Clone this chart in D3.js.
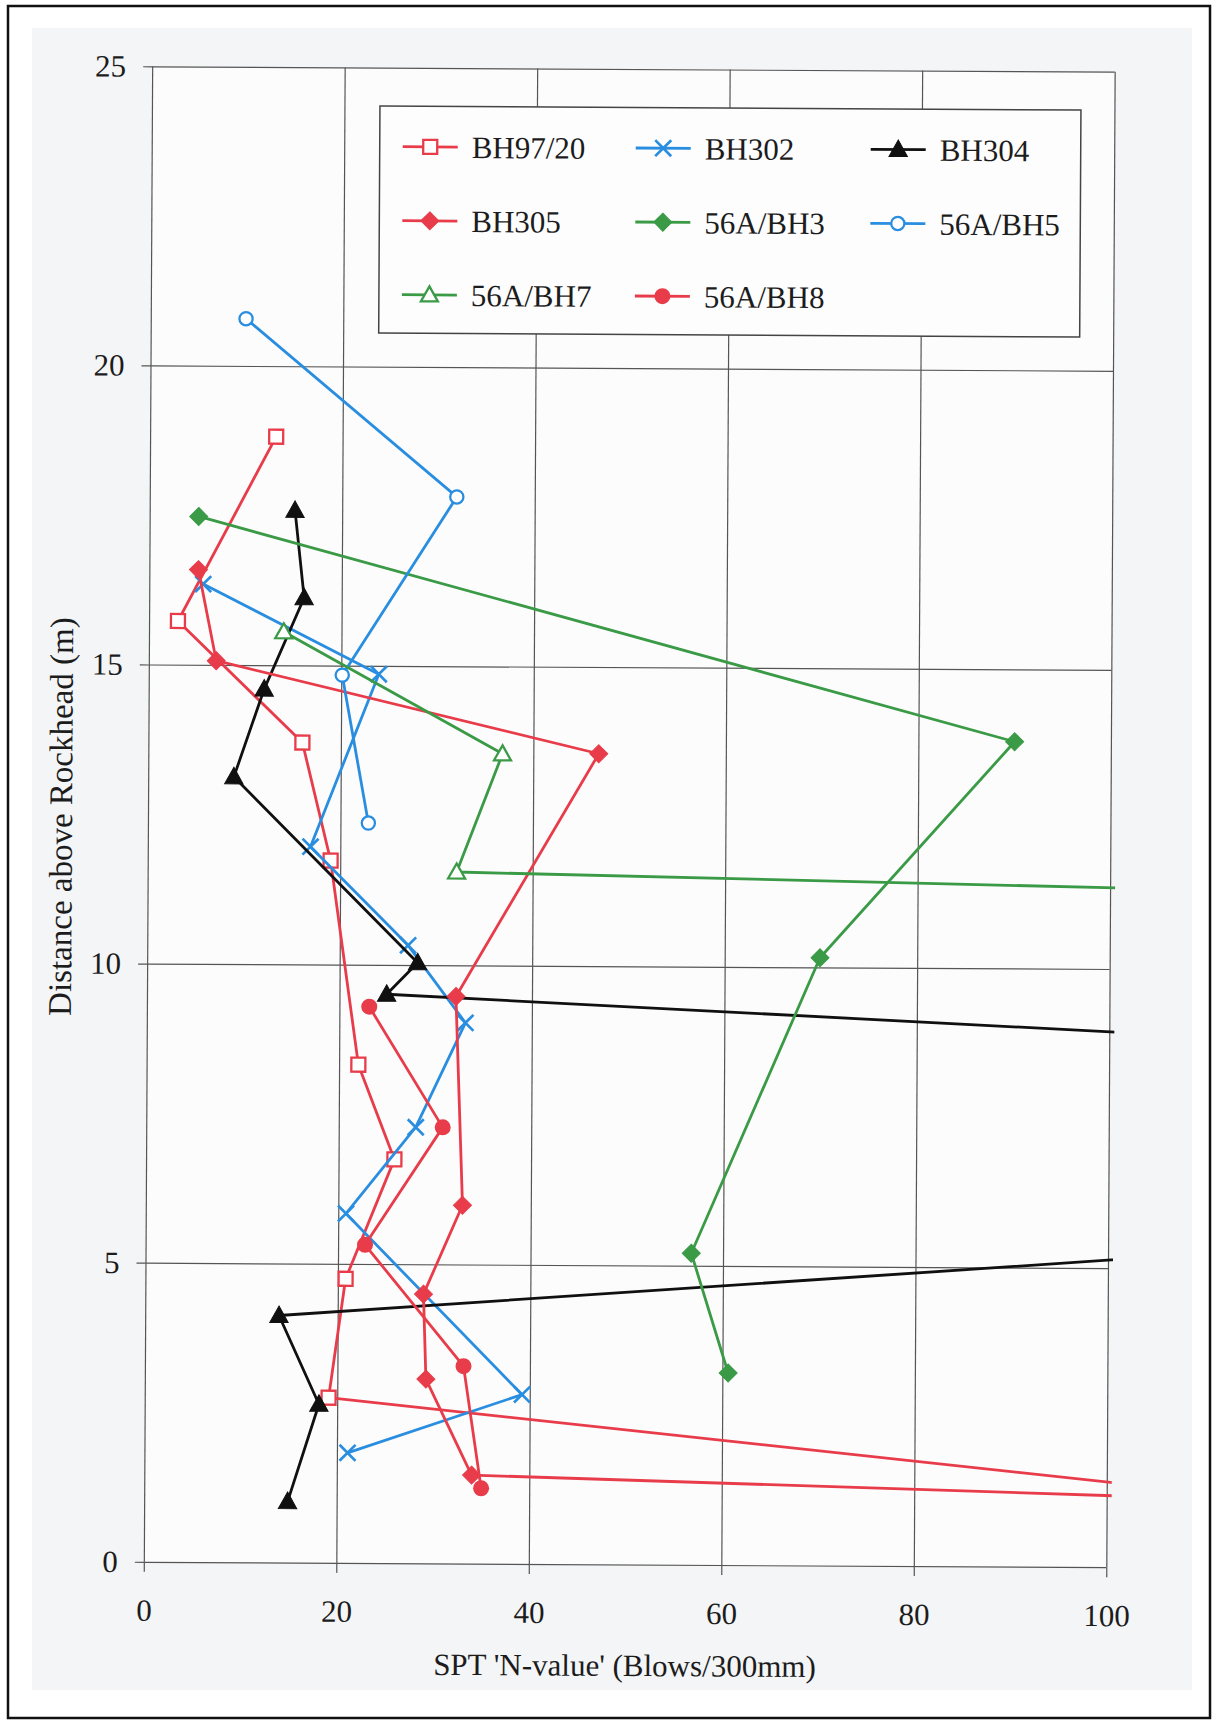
<!DOCTYPE html>
<html><head><meta charset="utf-8">
<script src="https://cdn.jsdelivr.net/npm/d3@7"></script>
<style>
html,body{margin:0;padding:0;background:#fff;}
svg{display:block;}
text{font-family:"Liberation Serif","Times New Roman",serif;fill:#1c1c1c;}
</style></head><body>
<svg id="chart" width="1216" height="1724"></svg>
<script>
// SPT N-values against height above rockhead, one profile per borehole.
// Values above 100 blows lie beyond the axis; their lines run out of the plot.
const seriesNames = ["BH97/20", "BH302", "BH304", "BH305", "56A/BH3", "56A/BH5", "56A/BH7", "56A/BH8"];

const bh9720N = [13.1, 3.0, 16.0, 19.0, 22.0, 25.8, 20.8, 19.1, 150];
const bh9720D = [18.82, 15.73, 13.71, 11.74, 8.33, 6.75, 4.75, 2.76, 0.60];

const bh302N = [5.6, 23.9, 16.9, 27.1, 33.1, 28.0, 20.8, 39.2, 21.1];
const bh302D = [16.35, 14.86, 11.97, 10.33, 9.04, 7.29, 5.84, 2.83, 1.84];

const bh304N = [15.1, 16.1, 12.0, 8.9, 28.1, 24.9, 300, 13.9, 18.1, 14.9];
const bh304D = [17.59, 16.13, 14.60, 13.13, 10.04, 9.51, 7.46, 4.13, 2.65, 1.02];

const bh305N = [5.1, 7.0, 46.8, 32.1, 32.9, 28.9, 29.2, 34.0, 200];
const bh305D = [16.59, 15.07, 13.55, 9.48, 5.99, 4.50, 3.08, 1.48, 0.77];

const bh56a3N = [5.1, 90.0, 69.9, 56.7, 60.6];
const bh56a3D = [17.48, 13.79, 10.16, 5.21, 3.21];

const bh56a5N = [9.9, 31.9, 20.1, 22.9];
const bh56a5D = [20.79, 17.83, 14.84, 12.37];

const bh56a7N = [14.0, 36.8, 32.1, 200];
const bh56a7D = [15.56, 13.54, 11.56, 11.06];

const bh56a8N = [23.1, 30.8, 22.8, 33.1, 35.0];
const bh56a8D = [9.30, 7.29, 5.32, 3.30, 1.26];

const xTicks = [0, 20, 40, 60, 80, 100];
const yTicks = [0, 5, 10, 15, 20, 25];

const xTitle = "SPT 'N-value' (Blows/300mm)";
const yTitle = "Distance above Rockhead (m)";

// ---- styling ----
const RED = "#e83c4a", BLUE = "#2a8ee0", GREEN = "#3a9a46", BLACK = "#101010";
const series = [
  {name: seriesNames[0], n: bh9720N, d: bh9720D, color: RED,   marker: "square"},
  {name: seriesNames[1], n: bh302N,  d: bh302D,  color: BLUE,  marker: "cross"},
  {name: seriesNames[2], n: bh304N,  d: bh304D,  color: BLACK, marker: "triangleFilled"},
  {name: seriesNames[3], n: bh305N,  d: bh305D,  color: RED,   marker: "diamond"},
  {name: seriesNames[4], n: bh56a3N, d: bh56a3D, color: GREEN, marker: "diamond"},
  {name: seriesNames[5], n: bh56a5N, d: bh56a5D, color: BLUE,  marker: "circleOpen"},
  {name: seriesNames[6], n: bh56a7N, d: bh56a7D, color: GREEN, marker: "triangleOpen"},
  {name: seriesNames[7], n: bh56a8N, d: bh56a8D, color: RED,   marker: "circle"}
];

const plot = {left: 148, right: 1110.5, top: 69, bottom: 1564.5};
const x = d3.scaleLinear().domain([0, 100]).range([plot.left, plot.right]);
const y = d3.scaleLinear().domain([0, 25]).range([plot.bottom, plot.top]);

const svg = d3.select("#chart");

// page frame and paper tone
svg.append("rect").attr("x", 0).attr("y", 0).attr("width", 1216).attr("height", 1724).attr("fill", "#fff");
svg.append("rect").attr("x", 32).attr("y", 28).attr("width", 1160).attr("height", 1662).attr("fill", "#f4f5f7");
svg.append("rect").attr("x", 8).attr("y", 6).attr("width", 1202).attr("height", 1712)
  .attr("fill", "none").attr("stroke", "#111").attr("stroke-width", 2.5);

// the whole chart sits very slightly turned on the sheet
const g = svg.append("g").attr("transform", "rotate(0.32 630 815)");

g.append("rect").attr("x", plot.left).attr("y", plot.top)
  .attr("width", plot.right - plot.left).attr("height", plot.bottom - plot.top)
  .attr("fill", "#fcfcfd");

// gridlines
const gridColor = "#555";
const gx = g.append("g").attr("transform", `translate(0,${plot.bottom})`)
  .call(d3.axisBottom(x).tickValues(xTicks).tickSize(-(plot.bottom - plot.top)).tickFormat(""));
const gy = g.append("g").attr("transform", `translate(${plot.left},0)`)
  .call(d3.axisLeft(y).tickValues(yTicks).tickSize(-(plot.right - plot.left)).tickFormat(""));
[gx, gy].forEach(a => {
  a.select(".domain").remove();
  a.selectAll("line").attr("stroke", gridColor).attr("stroke-width", 1.2);
});

// axes with outward tick marks and labels
const ax = g.append("g").attr("transform", `translate(0,${plot.bottom})`)
  .call(d3.axisBottom(x).tickValues(xTicks).tickSizeInner(10).tickSizeOuter(0).tickPadding(27).tickFormat(d3.format("d")));
const ay = g.append("g").attr("transform", `translate(${plot.left},0)`)
  .call(d3.axisLeft(y).tickValues(yTicks).tickSizeInner(9).tickSizeOuter(0).tickPadding(17).tickFormat(d3.format("d")));
[ax, ay].forEach(a => {
  a.select(".domain").remove();
  a.selectAll("line").attr("stroke", gridColor).attr("stroke-width", 1.2);
  a.selectAll("text").attr("font-size", 31).attr("fill", "#1c1c1c");
});

// axis titles
g.append("text").attr("x", (plot.left + plot.right) / 2).attr("y", 1676)
  .attr("text-anchor", "middle").attr("font-size", 31).text(xTitle);
g.append("text").attr("transform", `translate(72,${(plot.top + plot.bottom) / 2 + 3}) rotate(-90)`)
  .attr("text-anchor", "middle").attr("font-size", 33).text(yTitle);

// marker shapes
function drawMarker(sel, type, color) {
  if (type === "square") {
    sel.append("rect").attr("x", -7).attr("y", -7).attr("width", 14).attr("height", 14)
      .attr("fill", "#fff").attr("stroke", color).attr("stroke-width", 2.3);
  } else if (type === "cross") {
    sel.append("path").attr("d", "M-8,-8L8,8M-8,8L8,-8")
      .attr("fill", "none").attr("stroke", color).attr("stroke-width", 2.7);
  } else if (type === "triangleFilled") {
    sel.append("path").attr("d", "M0,-9.5L9.2,7L-9.2,7Z").attr("fill", color).attr("stroke", color).attr("stroke-width", 1);
  } else if (type === "triangleOpen") {
    sel.append("path").attr("d", "M0,-8.5L8.5,6.5L-8.5,6.5Z").attr("fill", "#fff").attr("stroke", color).attr("stroke-width", 2.3);
  } else if (type === "diamond") {
    sel.append("path").attr("d", "M0,-9L9,0L0,9L-9,0Z").attr("fill", color).attr("stroke", color).attr("stroke-width", 1);
  } else if (type === "circle") {
    sel.append("circle").attr("r", 8).attr("fill", color);
  } else if (type === "circleOpen") {
    sel.append("circle").attr("r", 6.6).attr("fill", "#fff").attr("stroke", color).attr("stroke-width", 2.3);
  }
}

// data layer, clipped to the plot so off-scale values exit at the right edge
g.append("clipPath").attr("id", "plotClip").append("rect")
  .attr("x", plot.left - 12).attr("y", plot.top - 12)
  .attr("width", plot.right - plot.left + 20).attr("height", plot.bottom - plot.top + 24);
g.append("clipPath").attr("id", "lineClip").append("rect")
  .attr("x", plot.left - 12).attr("y", plot.top - 12)
  .attr("width", plot.right - plot.left + 17).attr("height", plot.bottom - plot.top + 24);

const data = g.append("g");
const line = d3.line().x(p => x(p[0])).y(p => y(p[1]));

series.forEach(s => {
  const pts = s.n.map((v, i) => [v, s.d[i]]);
  const sg = data.append("g");
  sg.append("path").attr("d", line(pts)).attr("clip-path", "url(#lineClip)")
    .attr("fill", "none").attr("stroke", s.color).attr("stroke-width", 2.8).attr("stroke-linejoin", "round");
  const mg = sg.append("g").attr("clip-path", "url(#plotClip)");
  pts.filter(p => p[0] <= 100).forEach(p => {
    drawMarker(mg.append("g").attr("transform", `translate(${x(p[0])},${y(p[1])})`), s.marker, s.color);
  });
});

// legend
const legend = g.append("g");
legend.append("rect").attr("x", 376).attr("y", 107.5).attr("width", 701).attr("height", 227)
  .attr("fill", "#fdfdfe").attr("stroke", "#444").attr("stroke-width", 1.5);
const colX = [399, 632, 867];
const rowY = [148, 222, 296];
series.forEach((s, i) => {
  const cx = colX[i % 3], cy = rowY[Math.floor(i / 3)];
  const item = legend.append("g");
  item.append("line").attr("x1", cx).attr("x2", cx + 55).attr("y1", cy).attr("y2", cy)
    .attr("stroke", s.color).attr("stroke-width", 2.8);
  drawMarker(item.append("g").attr("transform", `translate(${cx + 27.5},${cy})`), s.marker, s.color);
  item.append("text").attr("x", cx + 69).attr("y", cy + 11).attr("font-size", 31).text(s.name);
});
</script>
</body></html>
